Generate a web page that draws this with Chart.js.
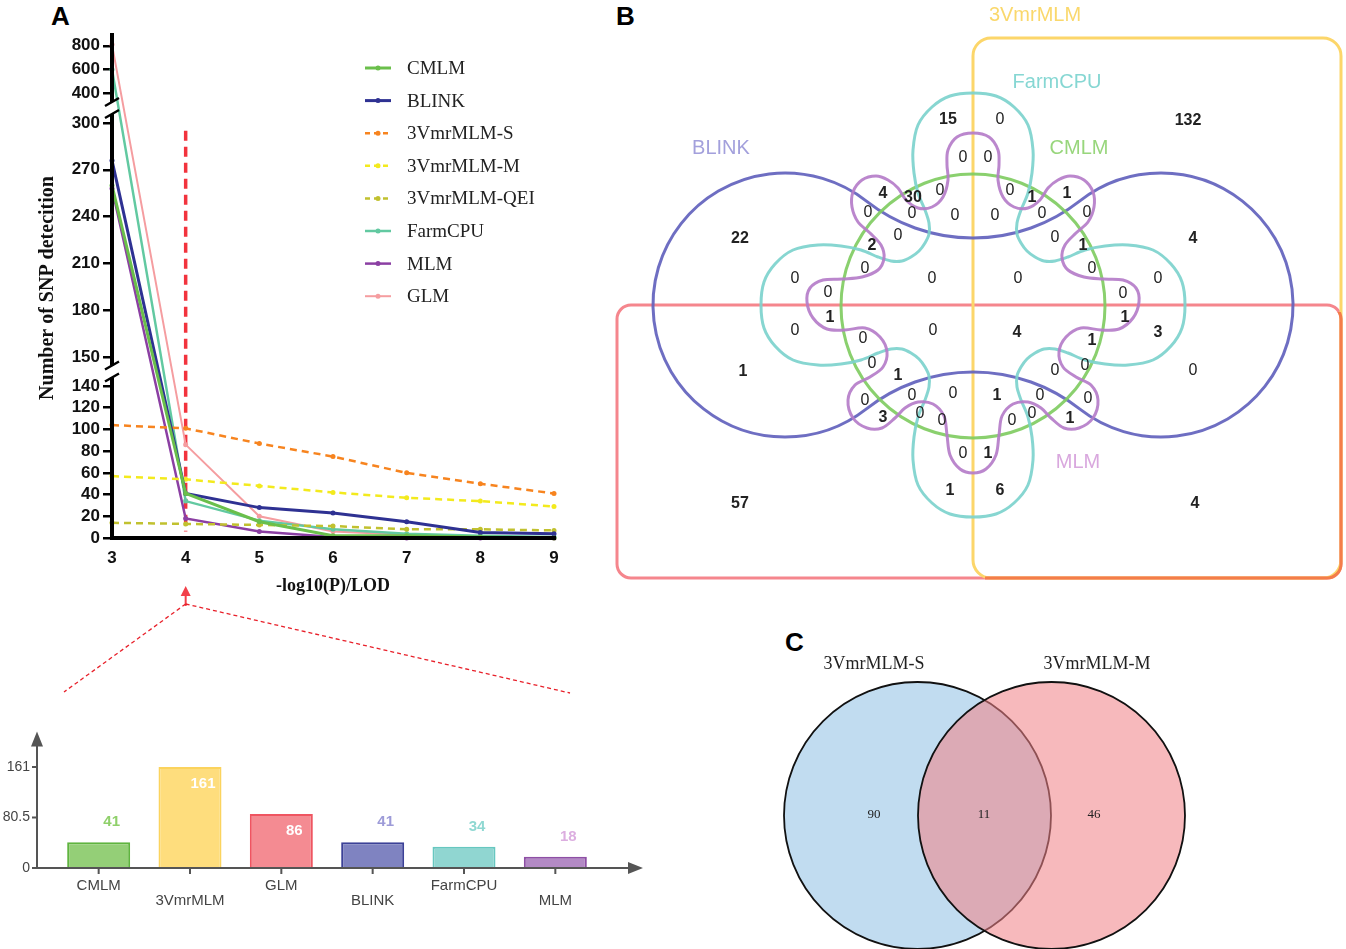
<!DOCTYPE html>
<html>
<head>
<meta charset="utf-8">
<script src="https://cdn.jsdelivr.net/npm/chart.js@4.4.0/dist/chart.umd.min.js"></script>
<style>
  html, body { margin: 0; padding: 0; background: #fff; }
  body { width: 1346px; height: 949px; position: relative; overflow: hidden; }
  canvas { position: absolute; }
  .tag { position: absolute; font: bold 26px "Liberation Sans", Arial, sans-serif; line-height: 26px; color: #000; }
</style>
</head>
<body>
<div class="tag" style="left:51px;top:3px">A</div>
<div class="tag" style="left:616px;top:3px">B</div>
<div class="tag" style="left:785px;top:629px">C</div>
<canvas id="lineChart" width="610" height="700" style="left:0;top:0"></canvas>
<canvas id="barChart" width="660" height="240" style="left:0;top:700px"></canvas>
<canvas id="vennB" width="736" height="590" style="left:610px;top:0"></canvas>
<canvas id="vennC" width="500" height="319" style="left:740px;top:630px"></canvas>
<script>
// ---------- data, panel A (lines) ----------
const thresholds = [3, 4, 5, 6, 7, 8, 9];
const methodNames = ['CMLM', 'BLINK', '3VmrMLM-S', '3VmrMLM-M', '3VmrMLM-QEI', 'FarmCPU', 'MLM', 'GLM'];
const cmlmCounts = [260, 41, 15, 2, 2, 1, 0];
const blinkCounts = [276, 41, 28, 23, 15, 5, 4];
const vmrSCounts = [104, 101, 87, 75, 60, 50, 41];
const vmrMCounts = [57, 54, 48, 42, 37, 34, 29];
const vmrQeiCounts = [14, 13, 12, 11, 8, 8, 7];
const farmcpuCounts = [600, 34, 16, 8, 4, 2, 1];
const mlmCounts = [258, 18, 6, 1, 0, 0, 0];
const glmCounts = [810, 86, 20, 6, 3, 1, 0];
const yTicksA = [0, 20, 40, 60, 80, 100, 120, 140, 150, 180, 210, 240, 270, 300, 400, 600, 800];

// ---------- data, panel A (bars at LOD 4) ----------
const barCategories = ['CMLM', '3VmrMLM', 'GLM', 'BLINK', 'FarmCPU', 'MLM'];
const barValues = [41, 161, 86, 41, 34, 18];
const barTicks = [0, 80.5, 161];

// ---------- data, panel B (six-set venn) ----------
const vennBSets = ['3VmrMLM', 'FarmCPU', 'BLINK', 'CMLM', 'MLM'];
const vennBCounts = [15, 0, 132, 22, 4, 0, 0, 4, 30, 0, 0, 1, 1, 0, 0, 0, 0, 0, 0, 2, 0, 0, 1, 0, 0,
  0, 0, 0, 0, 0, 0, 1, 1, 0, 0, 4, 3, 0, 1, 0, 0, 1, 1, 0, 0, 0, 0, 0, 1, 0, 0, 3, 0, 0, 0, 0, 1,
  0, 1, 1, 6, 57, 4];

// ---------- data, panel C ----------
const vennCSets = ['3VmrMLM-S', '3VmrMLM-M'];
const vennCCounts = [90, 11, 46];

// ---------- styles / layout ----------
const SANS = '"Liberation Sans", Arial, sans-serif';
const SERIF = '"Liberation Serif", "Times New Roman", serif';
const lineStyle = [
  { color: '#6abf4b', width: 3, dash: [] },
  { color: '#2e3192', width: 3, dash: [] },
  { color: '#f7841f', width: 2.5, dash: [7, 5] },
  { color: '#f3ea1d', width: 2.5, dash: [7, 5] },
  { color: '#c1c12f', width: 2.5, dash: [7, 5] },
  { color: '#62c9a1', width: 2.5, dash: [] },
  { color: '#8b3fa3', width: 2.5, dash: [] },
  { color: '#f59da0', width: 2, dash: [] }
];
const barFill = ['#94cf77', '#fedd7d', '#f48b92', '#7f83c1', '#90d6d1', '#b38ac5'];
const barEdge = ['#5fb43f', '#fbd35d', '#ef5561', '#3c4197', '#67c7c0', '#8e4fa5'];
const barLabelColor = ['#8fd06a', '#ffffff', '#ffffff', '#9d9bd8', '#8fd8d2', '#dcaee0'];

// broken y axis: value -> pixel distance above the x axis
const yKnots = [[0, 0], [140, 152], [150, 181], [300, 415], [400, 445], [900, 504]];
function valueToFrac(v) {
  const total = yKnots[yKnots.length - 1][1];
  for (let i = 1; i < yKnots.length; i++) {
    const [v0, p0] = yKnots[i - 1], [v1, p1] = yKnots[i];
    if (v <= v1 || i === yKnots.length - 1) return (p0 + (v - v0) / (v1 - v0) * (p1 - p0)) / total;
  }
}
function fracToValue(f) {
  const total = yKnots[yKnots.length - 1][1], p = f * total;
  for (let i = 1; i < yKnots.length; i++) {
    const [v0, p0] = yKnots[i - 1], [v1, p1] = yKnots[i];
    if (p <= p1 || i === yKnots.length - 1) return v0 + (p - p0) / (p1 - p0) * (v1 - v0);
  }
}
class BrokenLinearScale extends Chart.LinearScale {
  buildTicks() { super.buildTicks(); return yTicksA.map(v => ({ value: v })); }
  getPixelForValue(value) { return this.getPixelForDecimal(valueToFrac(value)); }
  getValueForPixel(pixel) { return fracToValue(this.getDecimalForPixel(pixel)); }
}
BrokenLinearScale.id = 'brokenLinear';
BrokenLinearScale.defaults = {};
Chart.register(BrokenLinearScale);

const seriesValues = [cmlmCounts, blinkCounts, vmrSCounts, vmrMCounts, vmrQeiCounts, farmcpuCounts, mlmCounts, glmCounts];

const lineDecor = {
  id: 'lineDecor',
  beforeDatasetsDraw(chart) {
    const { ctx, scales: { x, y } } = chart;
    const px = x.getPixelForValue(4);
    ctx.save();
    ctx.strokeStyle = '#f2333d';
    ctx.lineWidth = 3.5;
    ctx.setLineDash([10, 6]);
    ctx.beginPath();
    ctx.moveTo(px, y.getPixelForValue(295));
    ctx.lineTo(px, y.getPixelForValue(6));
    ctx.stroke();
    ctx.restore();
  },
  afterDraw(chart) {
    const { ctx, chartArea: a, scales: { x, y } } = chart;
    ctx.save();
    // x axis
    ctx.strokeStyle = '#000';
    ctx.lineWidth = 4;
    ctx.beginPath();
    ctx.moveTo(a.left - 2, a.bottom);
    ctx.lineTo(a.right + 2, a.bottom);
    ctx.stroke();
    // broken y axis
    const b1 = (y.getPixelForValue(140) + y.getPixelForValue(150)) / 2;
    const b2 = (y.getPixelForValue(300) + y.getPixelForValue(400)) / 2;
    const g = 6;
    const segs = [[a.bottom + 2, b1 + g], [b1 - g, b2 + g], [b2 - g, a.top - 1]];
    ctx.beginPath();
    segs.forEach(([s, e]) => { ctx.moveTo(a.left, s); ctx.lineTo(a.left, e); });
    ctx.stroke();
    ctx.lineWidth = 2.5;
    ctx.beginPath();
    [b1 + g, b1 - g, b2 + g, b2 - g].forEach(p => { ctx.moveTo(a.left - 7, p + 4); ctx.lineTo(a.left + 7, p - 4); });
    ctx.stroke();
    // axis titles
    ctx.fillStyle = '#111';
    ctx.font = 'bold 20px ' + SERIF;
    ctx.textAlign = 'center';
    ctx.textBaseline = 'middle';
    ctx.save();
    ctx.translate(48, 288);
    ctx.rotate(-Math.PI / 2);
    ctx.fillText('Number of SNP detecition', 0, 0);
    ctx.restore();
    ctx.font = 'bold 18px ' + SERIF;
    ctx.fillText('-log10(P)/LOD', (a.left + a.right) / 2, 586);
    // legend
    ctx.textAlign = 'left';
    ctx.font = '19px ' + SERIF;
    methodNames.forEach((name, i) => {
      const st = lineStyle[i], ly = 68 + i * 32.6;
      ctx.strokeStyle = st.color;
      ctx.fillStyle = st.color;
      ctx.lineWidth = st.width;
      ctx.setLineDash(st.dash.length ? [5, 4] : []);
      ctx.beginPath();
      ctx.moveTo(365, ly);
      ctx.lineTo(391, ly);
      ctx.stroke();
      ctx.setLineDash([]);
      ctx.beginPath();
      ctx.arc(378, ly, 2.5, 0, Math.PI * 2);
      ctx.fill();
      ctx.fillStyle = '#222';
      ctx.fillText(name, 407, ly + 1);
    });
    // zoom arrow and guide lines
    const px = x.getPixelForValue(4);
    ctx.strokeStyle = '#f2404a';
    ctx.fillStyle = '#f2404a';
    ctx.lineWidth = 2;
    ctx.beginPath();
    ctx.moveTo(px, 606);
    ctx.lineTo(px, 594);
    ctx.stroke();
    ctx.beginPath();
    ctx.moveTo(px, 586);
    ctx.lineTo(px - 5, 596);
    ctx.lineTo(px + 5, 596);
    ctx.closePath();
    ctx.fill();
    ctx.strokeStyle = '#e8202a';
    ctx.lineWidth = 1.3;
    ctx.setLineDash([4, 3]);
    ctx.beginPath();
    ctx.moveTo(px, 604);
    ctx.lineTo(64, 692);
    ctx.moveTo(px, 604);
    ctx.lineTo(570, 693);
    ctx.stroke();
    ctx.restore();
  }
};

new Chart(document.getElementById('lineChart'), {
  type: 'line',
  data: {
    datasets: methodNames.map((name, i) => ({
      label: name,
      data: thresholds.map((t, j) => ({ x: t, y: seriesValues[i][j] })),
      borderColor: lineStyle[i].color,
      backgroundColor: lineStyle[i].color,
      borderWidth: lineStyle[i].width,
      borderDash: lineStyle[i].dash,
      pointRadius: 2.5,
      pointBorderWidth: 0,
      tension: 0,
      clip: false
    }))
  },
  options: {
    responsive: false,
    animation: false,
    layout: { padding: { left: 0, right: 56, top: 34, bottom: 122 } },
    plugins: { legend: { display: false }, tooltip: { enabled: false } },
    scales: {
      x: {
        type: 'linear', min: 3, max: 9,
        ticks: { stepSize: 1, padding: 10, color: '#111', font: { family: SANS, size: 17, weight: 'bold' } },
        grid: { display: false, drawTicks: false },
        border: { display: false },
        afterFit: s => { s.height = 40; }
      },
      y: {
        type: 'brokenLinear', min: 0, max: 900,
        ticks: { autoSkip: false, padding: 3, color: '#111', font: { family: SANS, size: 17, weight: 'bold' }, callback: v => String(v) },
        grid: { display: true, drawOnChartArea: false, drawTicks: true, tickLength: 9, color: '#000', lineWidth: 2.5 },
        border: { display: false },
        afterFit: s => { s.width = 112; }
      }
    }
  },
  plugins: [lineDecor]
});

// ---------- bar chart ----------
const barDecor = {
  id: 'barDecor',
  afterDraw(chart) {
    const { ctx, chartArea: a, scales: { x, y } } = chart;
    const ax = 37, ay = y.getPixelForValue(0);
    ctx.save();
    ctx.strokeStyle = '#555';
    ctx.fillStyle = '#555';
    ctx.lineWidth = 2;
    ctx.beginPath();
    ctx.moveTo(ax, ay);
    ctx.lineTo(ax, a.top + 12);
    ctx.moveTo(ax, ay);
    ctx.lineTo(630, ay);
    barTicks.forEach(v => { const p = y.getPixelForValue(v); ctx.moveTo(ax - 5, p); ctx.lineTo(ax, p); });
    barCategories.forEach((c, i) => { const p = x.getPixelForValue(i); ctx.moveTo(p, ay); ctx.lineTo(p, ay + 6); });
    ctx.stroke();
    ctx.beginPath();
    ctx.moveTo(ax, a.top);
    ctx.lineTo(ax - 6, a.top + 15);
    ctx.lineTo(ax + 6, a.top + 15);
    ctx.closePath();
    ctx.moveTo(643, ay);
    ctx.lineTo(628, ay - 6);
    ctx.lineTo(628, ay + 6);
    ctx.closePath();
    ctx.fill();
    // value labels
    ctx.font = 'bold 15px ' + SANS;
    ctx.textAlign = 'center';
    ctx.textBaseline = 'middle';
    chart.getDatasetMeta(0).data.forEach((bar, i) => {
      const inside = barValues[i] > barTicks[1];
      ctx.fillStyle = barLabelColor[i];
      ctx.fillText(String(barValues[i]), bar.x + 13, bar.y + (inside ? 17 : -20));
    });
    ctx.restore();
  }
};

new Chart(document.getElementById('barChart'), {
  type: 'bar',
  data: {
    labels: barCategories.map((c, i) => (i % 2 ? ['', c] : [c])),
    datasets: [{
      data: barValues,
      backgroundColor: barFill,
      borderColor: barEdge,
      borderWidth: 2,
      categoryPercentage: 1,
      barPercentage: 0.69
    }]
  },
  options: {
    responsive: false,
    animation: false,
    layout: { padding: { left: 0, right: 59, top: 30, bottom: 12 } },
    plugins: { legend: { display: false }, tooltip: { enabled: false } },
    scales: {
      x: {
        ticks: { padding: 10, color: '#444', autoSkip: false, maxRotation: 0, font: { family: SANS, size: 15, lineHeight: 1 } },
        grid: { display: false, drawTicks: false },
        border: { display: false },
        afterFit: s => { s.height = 60; }
      },
      y: {
        min: 0, max: 218,
        afterBuildTicks: s => { s.ticks = barTicks.map(v => ({ value: v })); },
        ticks: { padding: 23, color: '#444', font: { family: SANS, size: 14 }, callback: v => String(v) },
        grid: { display: false, drawTicks: false },
        border: { display: false },
        afterFit: s => { s.width = 53; }
      }
    }
  },
  plugins: [barDecor]
});

// ---------- panel B ----------
// label anchor of each count, in figure units
const vennBPos = [[948, 119], [1000, 119], [1188, 120], [740, 238], [1193, 238], [963, 157], [988, 157],
  [883, 193], [913, 197], [940, 190], [1010, 190], [1032, 197], [1067, 193], [868, 212], [912, 213],
  [955, 215], [995, 215], [1042, 213], [1087, 212], [872, 245], [898, 235], [1055, 237], [1083, 245],
  [865, 268], [1092, 268], [795, 278], [932, 278], [1018, 278], [1158, 278], [828, 292], [1123, 293],
  [830, 317], [1125, 317], [795, 330], [933, 330], [1017, 332], [1158, 332], [863, 338], [1092, 340],
  [872, 363], [1085, 365], [743, 371], [898, 375], [1055, 370], [1193, 370], [865, 400], [912, 395],
  [953, 393], [997, 395], [1040, 395], [1088, 398], [883, 417], [920, 413], [942, 420], [1012, 420],
  [1032, 413], [1070, 418], [963, 453], [988, 453], [950, 490], [1000, 490], [740, 503], [1195, 503]];
const vennBCenter = [973, 305];
// outline of one quarter of the FarmCPU shape (top to left), relative to the centre
const tealOctant = [[0, -212], [-23, -209], [-41, -198], [-55, -180], [-60, -155], [-59, -132], [-55, -112],
  [-48, -95], [-44, -82], [-44, -71], [-48, -62], [-54, -54]];
// left half of the MLM outline, top to bottom
const purpleHalf = [[973, 133], [957, 137], [948, 150], [947, 165], [948, 180], [943, 197], [932, 207],
  [918, 208], [906, 200], [898, 188], [888, 180], [876, 176], [862, 180], [853, 192], [852, 207],
  [858, 222], [870, 233], [881, 245], [884, 258], [878, 270], [862, 277], [843, 279], [823, 280],
  [810, 288], [807, 302], [813, 318], [827, 329], [845, 330], [865, 328], [880, 337], [887, 352],
  [883, 367], [870, 377], [855, 385], [848, 400], [853, 418], [867, 428], [882, 428], [895, 418],
  [905, 408], [918, 402], [933, 404], [944, 416], [947, 435], [950, 455], [960, 469], [973, 473]];

function closedSpline(ctx, pts) {
  const n = pts.length;
  ctx.beginPath();
  ctx.moveTo(pts[0][0], pts[0][1]);
  for (let i = 0; i < n; i++) {
    const p0 = pts[(i - 1 + n) % n], p1 = pts[i], p2 = pts[(i + 1) % n], p3 = pts[(i + 2) % n];
    ctx.bezierCurveTo(p1[0] + (p2[0] - p0[0]) / 6, p1[1] + (p2[1] - p0[1]) / 6,
      p2[0] - (p3[0] - p1[0]) / 6, p2[1] - (p3[1] - p1[1]) / 6, p2[0], p2[1]);
  }
  ctx.closePath();
}
function roundRect(ctx, x0, y0, x1, y1, r) {
  ctx.beginPath();
  ctx.moveTo(x0 + r, y0);
  ctx.arcTo(x1, y0, x1, y1, r);
  ctx.arcTo(x1, y1, x0, y1, r);
  ctx.arcTo(x0, y1, x0, y0, r);
  ctx.arcTo(x0, y0, x1, y0, r);
  ctx.closePath();
}

const vennBDecor = {
  id: 'vennBDecor',
  afterDraw(chart) {
    const { ctx, scales: { x, y } } = chart;
    const P = (u, v) => [x.getPixelForValue(u), y.getPixelForValue(v)];
    const L = d => x.getPixelForValue(vennBCenter[0] + d) - x.getPixelForValue(vennBCenter[0]);
    ctx.save();
    ctx.lineWidth = 3;
    // GLM (red) and 3VmrMLM (yellow) frames
    let a = P(617, 305), b = P(1341, 578);
    ctx.strokeStyle = '#f5868d';
    roundRect(ctx, a[0], a[1], b[0], b[1], 14); ctx.stroke();
    let c = P(973, 38);
    ctx.strokeStyle = '#fcd66a';
    roundRect(ctx, c[0], c[1], b[0], b[1], 18); ctx.stroke();
    ctx.save();
    const k = P(985, 312);
    ctx.beginPath(); ctx.rect(k[0], k[1], 800, 400); ctx.clip();
    ctx.strokeStyle = '#f47d4a';
    roundRect(ctx, a[0], a[1], b[0], b[1], 14); ctx.stroke();
    ctx.restore();

    ctx.globalAlpha = 0.92;
    // BLINK: two lobes joined by concave arcs
    const lobeR = L(132), filR = L(172.4);
    const cl = P(785, 305), cr = P(1161, 305), ft = P(973, 65.6), fb = P(973, 544.4);
    const t1 = Math.atan2(104, 81.5), t2 = Math.atan2(135.4, 106.5);
    ctx.strokeStyle = '#6262bd';
    ctx.beginPath();
    ctx.arc(cl[0], cl[1], lobeR, -t1, t1, true);
    ctx.arc(fb[0], fb[1], filR, -Math.PI + t2, -t2, false);
    ctx.arc(cr[0], cr[1], lobeR, Math.PI - t1, -Math.PI + t1, true);
    ctx.arc(ft[0], ft[1], filR, t2, Math.PI - t2, false);
    ctx.closePath();
    ctx.stroke();
    // CMLM circle
    const cg = P(973, 306);
    ctx.strokeStyle = '#80cc62';
    ctx.beginPath(); ctx.arc(cg[0], cg[1], L(132), 0, Math.PI * 2); ctx.stroke();
    // FarmCPU four-lobed outline
    const q1 = tealOctant.concat(tealOctant.slice(0, -1).reverse().map(([u, v]) => [v, u]));
    const q2 = q1.slice().reverse().map(([u, v]) => [u, -v]).slice(1);
    const q3 = q1.map(([u, v]) => [-u, -v]).slice(1);
    const q4 = q1.slice().reverse().map(([u, v]) => [-u, v]).slice(1, -1);
    const teal = q1.concat(q2, q3, q4).map(([u, v]) => P(vennBCenter[0] + u, vennBCenter[1] + v));
    ctx.strokeStyle = '#7dd2cd';
    closedSpline(ctx, teal); ctx.stroke();
    // MLM wavy outline
    const right = purpleHalf.slice(1, -1).reverse().map(([u, v]) => [2 * vennBCenter[0] - u, v]);
    const purple = purpleHalf.concat(right).map(([u, v]) => P(u, v));
    ctx.strokeStyle = '#b57dc9';
    closedSpline(ctx, purple); ctx.stroke();
    ctx.globalAlpha = 1;

    // set names
    ctx.textAlign = 'center';
    ctx.textBaseline = 'middle';
    ctx.font = '20px ' + SANS;
    const names = [['#fad86c', 1035, 15], ['#86d7d3', 1057, 82], ['#a3a0dc', 721, 148], ['#98d67c', 1079, 148], ['#d9a8de', 1078, 462]];
    vennBSets.forEach((s, i) => {
      const [col, u, v] = names[i];
      const p = P(u, v);
      ctx.fillStyle = col;
      ctx.fillText(s, p[0], p[1]);
    });
    // region counts
    ctx.fillStyle = '#222';
    vennBCounts.forEach((n, i) => {
      const p = P(vennBPos[i][0], vennBPos[i][1]);
      ctx.font = (n > 0 ? 'bold ' : '') + '16px ' + SANS;
      ctx.fillText(String(n), p[0], p[1] + 1);
    });
    ctx.restore();
  }
};

new Chart(document.getElementById('vennB'), {
  type: 'scatter',
  data: { datasets: [{ data: vennBPos.map(([u, v]) => ({ x: u, y: v })), pointRadius: 0 }] },
  options: {
    responsive: false,
    animation: false,
    layout: { padding: 0 },
    plugins: { legend: { display: false }, tooltip: { enabled: false } },
    scales: {
      x: { type: 'linear', min: 610, max: 1346, display: false },
      y: { type: 'linear', min: 0, max: 590, reverse: true, display: false }
    }
  },
  plugins: [vennBDecor]
});

// ---------- panel C ----------
const vennCCircles = [[917.5, 815.5, 133.5], [1051.5, 815.5, 133.5]];
const vennCDecor = {
  id: 'vennCDecor',
  afterDraw(chart) {
    const { ctx, scales: { x, y } } = chart;
    ctx.save();
    const fills = ['rgb(193,220,240)', 'rgba(241,130,135,0.56)'];
    vennCCircles.forEach(([u, v, r], i) => {
      const cx = x.getPixelForValue(u), cy = y.getPixelForValue(v);
      const rr = x.getPixelForValue(u + r) - cx;
      ctx.beginPath();
      ctx.arc(cx, cy, rr, 0, Math.PI * 2);
      ctx.fillStyle = fills[i];
      ctx.fill();
      ctx.strokeStyle = '#111';
      ctx.lineWidth = 1.8;
      ctx.stroke();
    });
    ctx.fillStyle = '#222';
    ctx.textAlign = 'center';
    ctx.textBaseline = 'middle';
    ctx.font = '18px ' + SERIF;
    [[874, 664], [1097, 664]].forEach(([u, v], i) => ctx.fillText(vennCSets[i], x.getPixelForValue(u), y.getPixelForValue(v)));
    ctx.font = '13px ' + SERIF;
    [[874, 815], [984, 815], [1094, 815]].forEach(([u, v], i) => ctx.fillText(String(vennCCounts[i]), x.getPixelForValue(u), y.getPixelForValue(v)));
    ctx.restore();
  }
};

new Chart(document.getElementById('vennC'), {
  type: 'scatter',
  data: { datasets: [{ data: vennCCircles.map(([u, v]) => ({ x: u, y: v })), pointRadius: 0 }] },
  options: {
    responsive: false,
    animation: false,
    layout: { padding: 0 },
    plugins: { legend: { display: false }, tooltip: { enabled: false } },
    scales: {
      x: { type: 'linear', min: 740, max: 1240, display: false },
      y: { type: 'linear', min: 630, max: 949, reverse: true, display: false }
    }
  },
  plugins: [vennCDecor]
});
</script>
</body>
</html>
